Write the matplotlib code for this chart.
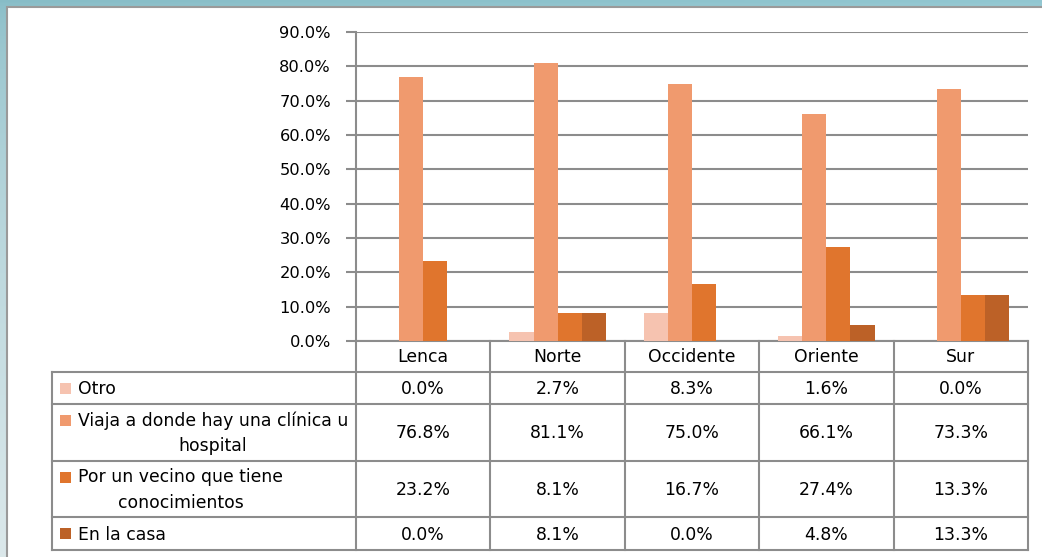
import matplotlib.pyplot as plt
import numpy as np
from matplotlib.patches import Rectangle

# --- data ---
regions = ['Lenca', 'Norte', 'Occidente', 'Oriente', 'Sur']
series = ['Otro', 'Viaja a donde hay una clínica u\nhospital',
          'Por un vecino que tiene\nconocimientos', 'En la casa']
otro = [0.0, 2.7, 8.3, 1.6, 0.0]
viaja = [76.8, 81.1, 75.0, 66.1, 73.3]
vecino = [23.2, 8.1, 16.7, 27.4, 13.3]
casa = [0.0, 8.1, 0.0, 4.8, 13.3]
values = [otro, viaja, vecino, casa]
colors = ['#F6C3B0', '#F09A6E', '#E0752D', '#BC6127']
y_ticks = [0, 10, 20, 30, 40, 50, 60, 70, 80, 90]

W, H = 1042, 557
fig = plt.figure(figsize=(W / 100, H / 100), dpi=100)

# background gradient and white panel
bg = fig.add_axes([0, 0, 1, 1])
yy = np.linspace(0, 1, 200)[:, None]
xx = np.linspace(0, 1, 300)[None, :]
top = np.array([0.53, 0.74, 0.78])
bot = np.array([0.86, 0.91, 0.92])
grad = top + (bot - top) * (yy[..., None] ** 0.6) + 0.04 * xx[..., None]
bg.imshow(np.clip(grad, 0, 1), extent=[0, W, H, 0], aspect='auto')
bg.set_xlim(0, W)
bg.set_ylim(H, 0)
bg.axis('off')
bg.add_patch(Rectangle((7, 7), W, H, facecolor='white', edgecolor='#9a9a9a', linewidth=1.5))

# --- bar chart ---
ax_l, ax_r, ax_t, ax_b = 356, 1028, 32, 341
ax = fig.add_axes([ax_l / W, 1 - ax_b / H, (ax_r - ax_l) / W, (ax_b - ax_t) / H])
ax.set_facecolor('none')
x = np.arange(len(regions))
bw = 0.179
for i, (vals, c) in enumerate(zip(values, colors)):
    ax.bar(x + (i - 1.5) * bw, vals, bw, color=c, linewidth=0, zorder=3)
ax.set_xlim(-0.5, len(regions) - 0.5)
ax.set_ylim(0, 90)
ax.set_yticks(y_ticks)
ax.set_yticklabels([f'{t:.1f}%' for t in y_ticks], fontsize=11.7)
ax.set_xticks([])
ax.grid(axis='y', color='#8c8c8c', linewidth=1.5, zorder=1)
ax.tick_params(axis='y', length=7, width=1.5, color='#8c8c8c', pad=11)
for s in ['top', 'right']:
    ax.spines[s].set_visible(False)
for s in ['left', 'bottom']:
    ax.spines[s].set_color('#8c8c8c')
    ax.spines[s].set_linewidth(1.5)

# --- data table ---
tab = fig.add_axes([0, 0, 1, 1])
tab.set_xlim(0, W)
tab.set_ylim(H, 0)
tab.axis('off')
lc = '#8c8c8c'
cw = (ax_r - ax_l) / len(regions)
rows = [341, 372, 404, 461, 517, 550]
tab_left = 52
# horizontal lines
for yv in rows[1:]:
    tab.plot([tab_left, ax_r], [yv, yv], color=lc, lw=1.5)
# vertical lines
for i in range(len(regions) + 1):
    tab.plot([ax_l + i * cw] * 2, [rows[0], rows[-1]], color=lc, lw=1.5)
tab.plot([tab_left, tab_left], [rows[1], rows[-1]], color=lc, lw=1.5)

fs = 12.4
for i, r in enumerate(regions):
    cx = ax_l + (i + 0.5) * cw
    tab.text(cx, (rows[0] + rows[1]) / 2 + 1, r, ha='center', va='center', fontsize=fs)
    for j, vals in enumerate(values):
        cy = (rows[j + 1] + rows[j + 2]) / 2
        tab.text(cx, cy + 1, f'{vals[i]:.1f}%', ha='center', va='center', fontsize=fs)

for j, (name, c) in enumerate(zip(series, colors)):
    cy = (rows[j + 1] + rows[j + 2]) / 2
    nl = name.count('\n') + 1
    first_y = cy - (nl - 1) * 12
    tab.add_patch(Rectangle((60, first_y - 5.5), 11, 11, facecolor=c, edgecolor='none'))
    tab.text(78, cy + 1, name, ha='left', va='center', multialignment='center',
             fontsize=fs, linespacing=1.5)

fig.savefig('out.png', dpi=100)
